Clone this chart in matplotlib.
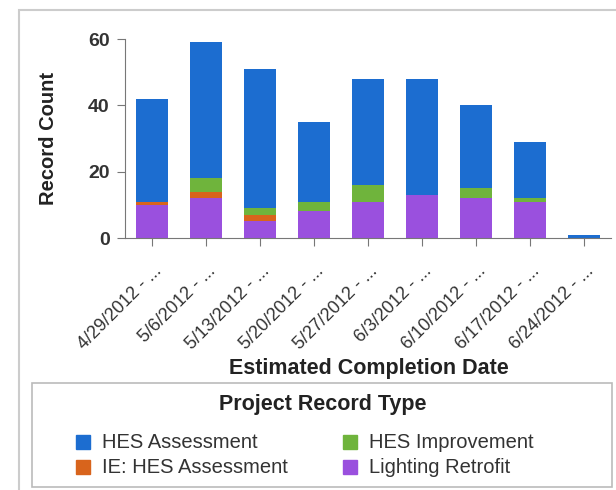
import matplotlib.pyplot as plt
import matplotlib.patches as mpatches
import matplotlib.transforms as mtransforms
import numpy as np

plt.rcParams['font.family'] = ['Liberation Sans', 'DejaVu Sans']

dates = ["4/29/2012 - ...", "5/6/2012 - ...", "5/13/2012 - ...", "5/20/2012 - ...",
         "5/27/2012 - ...", "6/3/2012 - ...", "6/10/2012 - ...", "6/17/2012 - ...",
         "6/24/2012 - ..."]
lighting = [10, 12, 5, 8, 11, 13, 12, 11, 0]
ie_hes = [1, 2, 2, 0, 0, 0, 0, 0, 0]
hes_improve = [0, 4, 2, 3, 5, 0, 3, 1, 0]
hes_assess = [31, 41, 42, 24, 32, 35, 25, 17, 1]

colors = {"HES Assessment": "#1c6dd0", "IE: HES Assessment": "#d8641c",
          "HES Improvement": "#6fb43c", "Lighting Retrofit": "#9a50de"}


def draw():
    fig = plt.figure(figsize=(6.16, 4.9), dpi=100)
    fig.patches.append(mpatches.Rectangle((19 / 616, -0.1), 1.2, (490 - 10) / 490 + 0.1,
                                          transform=fig.transFigure, fill=False,
                                          edgecolor="#cccccc", lw=1.5))
    ax = fig.add_axes([125 / 616, 1 - 238 / 490, 486 / 616, 199 / 490])
    x = np.arange(len(dates))
    w = 0.6
    bottom = np.zeros(len(dates))
    series = [("Lighting Retrofit", lighting), ("IE: HES Assessment", ie_hes),
              ("HES Improvement", hes_improve), ("HES Assessment", hes_assess)]
    for name, vals in series:
        ax.bar(x, vals, w, bottom=bottom, color=colors[name], label=name)
        bottom += np.array(vals)

    ax.set_xlim(-0.5, 8.5)
    ax.set_ylim(0, 60)
    ax.set_yticks([0, 20, 40, 60])
    for s in ["top", "right"]:
        ax.spines[s].set_visible(False)
    for s in ["left", "bottom"]:
        ax.spines[s].set_color("#777777")
    ax.tick_params(colors="#777777", labelcolor="#333333", length=6)
    ax.tick_params(axis="y", pad=5)
    ax.set_xticks(x)
    ax.set_xticklabels(dates, rotation=45, ha="right", va="top", rotation_mode="anchor",
                       fontsize=13, color="#333333")
    shift = mtransforms.ScaledTranslation(1 / 100, -11 / 100, fig.dpi_scale_trans)
    for t in ax.get_xticklabels():
        t.set_transform(t.get_transform() + shift)
    for t in ax.get_yticklabels():
        t.set_fontsize(14)
        t.set_fontweight("bold")
    ax.set_ylabel("Record Count", fontsize=14.5, fontweight="bold", color="#222222")
    ax.yaxis.set_label_coords(-67 / 486, 0.5)
    fig.text(369 / 616, 1 - 368 / 490, "Estimated Completion Date", ha="center", va="center",
             fontsize=15.5, fontweight="bold", color="#222222")

    # legend box
    fig.patches.append(mpatches.Rectangle((32 / 616, 1 - 487 / 490), 580 / 616, 104 / 490,
                                          transform=fig.transFigure, fill=False,
                                          edgecolor="#bbbbbb", lw=1.2))
    fig.text(323 / 616, 1 - 404 / 490, "Project Record Type", ha="center", va="center",
             fontsize=15.5, fontweight="bold", color="#222222")
    entries = [("HES Assessment", 83, 442), ("IE: HES Assessment", 83, 467),
               ("HES Improvement", 350, 442), ("Lighting Retrofit", 350, 467)]
    for name, px, py in entries:
        fig.patches.append(mpatches.Rectangle(((px - 7) / 616, 1 - (py + 7) / 490), 14 / 616, 14 / 490,
                                              transform=fig.transFigure, color=colors[name]))
        fig.text((px + 19) / 616, 1 - py / 490, name, ha="left", va="center",
                 fontsize=14.5, color="#333333")

    plt.savefig("out.png", dpi=100)


if __name__ == '__main__':
    draw()
